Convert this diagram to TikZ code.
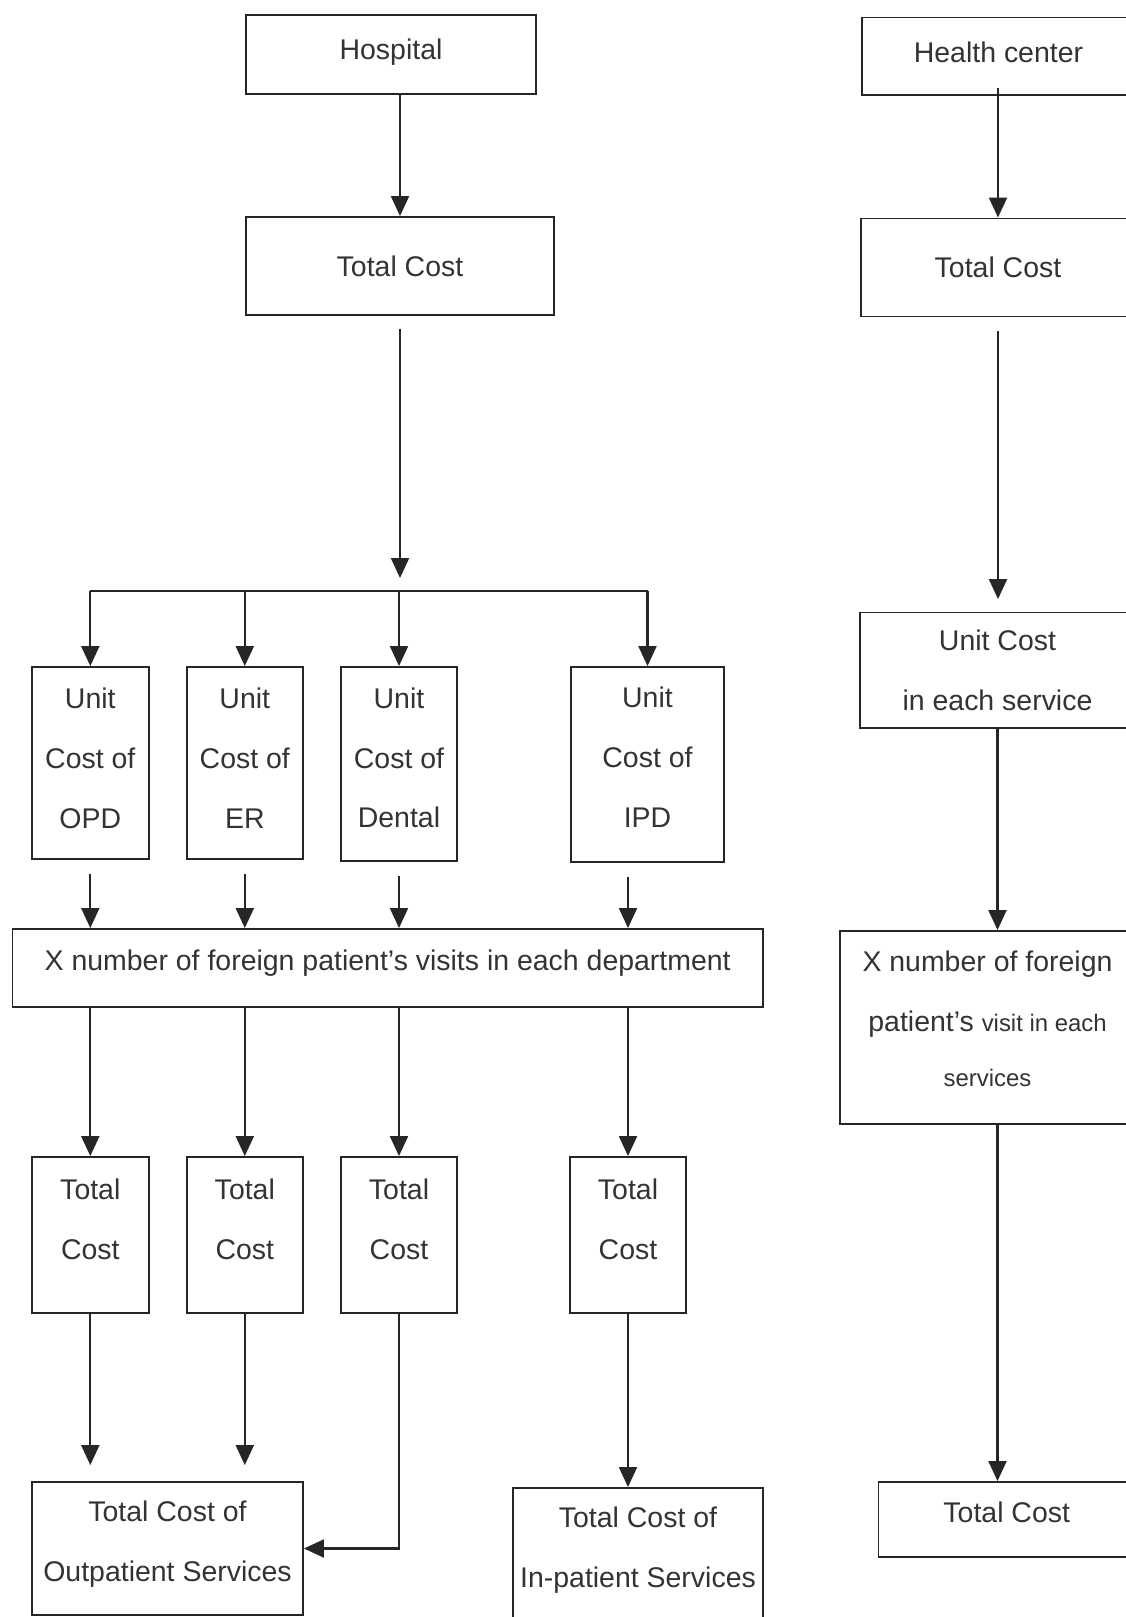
\documentclass[tikz,border=0pt]{standalone}
\usepackage{fontspec}
\setmainfont{Liberation Sans}
\usetikzlibrary{arrows.meta}
\tikzset{
	box/.style={draw=black!85, line width=1.1pt, inner sep=0pt, align=center, text=black!80, font=\fontsize{16.2}{34}\selectfont},
	arr/.style={draw=black!85, line width=1.2pt, -{Triangle[length=0.4cm,width=0.36cm]}},
	link/.style={draw=black!85, line width=1.2pt}
}
\newcommand{\smalltxt}{\fontsize{13.6}{34}\selectfont}

\begin{document}
\begin{tikzpicture}[x=0.02cm, y=-0.02cm]
			%%%%% START %%%%%
			\useasboundingbox (0, 0) rectangle (1126, 1617);
			\clip (0, 0) rectangle (1126, 1617);
			
			% hospital side
			\node[box, minimum width=5.8cm, minimum height=1.58cm, text depth=0.2cm] (hosp) at (391, 54.5) {Hospital};
			\node[box, minimum width=6.16cm, minimum height=1.96cm] (tc) at (400, 266) {Total Cost};
			\coordinate (split) at (400, 591);
			
			\node[box, minimum width=2.33cm, minimum height=3.84cm, text depth=0.2cm] (uopd) at (90.3, 763) {Unit\\Cost of\\OPD};
			\node[box, minimum width=2.33cm, minimum height=3.84cm, text depth=0.2cm] (uer) at (244.8, 763) {Unit\\Cost of\\ER};
			\node[box, minimum width=2.32cm, minimum height=3.88cm, text depth=0.25cm] (udent) at (399, 764) {Unit\\Cost of\\Dental};
			\node[box, minimum width=3.06cm, minimum height=3.9cm, text depth=0.29cm] (uipd) at (647.5, 764.5) {Unit\\Cost of\\IPD};
			
			\node[box, minimum width=15.01cm, minimum height=1.56cm, text depth=0.32cm] (xnum) at (387.7, 968) {X number of foreign patient's visits in each department};
			
			\node[box, minimum width=2.33cm, minimum height=3.12cm, text depth=0.64cm] (topd) at (90.3, 1235) {Total\\Cost};
			\node[box, minimum width=2.33cm, minimum height=3.12cm, text depth=0.64cm] (ter) at (244.8, 1235) {Total\\Cost};
			\node[box, minimum width=2.32cm, minimum height=3.12cm, text depth=0.64cm] (tdent) at (399, 1235) {Total\\Cost};
			\node[box, minimum width=2.32cm, minimum height=3.12cm, text depth=0.64cm] (tipd) at (628, 1235) {Total\\Cost};
			
			\node[box, minimum width=5.42cm, minimum height=2.66cm, text depth=0.29cm] (outp) at (167.5, 1548.5) {Total Cost of\\Outpatient Services};
			\node[box, minimum width=4.99cm, minimum height=3.56cm] (inp) at (638, 1577) {Total Cost of\\In-patient Services\\\mbox{}};
			
			\draw[arr] (tc.north |- hosp.south) -- (tc.north);
			\draw[arr] ([yshift=-0.26cm]tc.south) -- ([yshift=0.26cm]split);
			\draw[link] (uopd.north |- split) -- (uipd.north |- split);
			\foreach \u in {uopd, uer, udent, uipd}
				\draw[arr] (\u.north |- split) -- (\u.north);
			
			\foreach \u/\t in {uopd/topd, uer/ter, udent/tdent, uipd/tipd} {
				\draw[arr] ([yshift=-0.28cm]\t.north |- \u.south) -- (\t.north |- xnum.north);
				\draw[arr] (\t.north |- xnum.south) -- (\t.north);
			}
			
			\draw[arr] (topd.south) -- ([yshift=0.32cm]topd.south |- outp.north);
			\draw[arr] (ter.south) -- ([yshift=0.32cm]ter.south |- outp.north);
			\draw[arr] (tdent.south) |- (outp.east);
			\draw[arr] (tipd.south) -- (tipd.south |- inp.north);
			
			% health center side
			\node[box, minimum width=5.46cm, minimum height=1.55cm, text depth=0.17cm] (hc) at (998.5, 56.25) {Health center};
			\node[box, minimum width=5.48cm, minimum height=1.96cm] (rtc) at (998, 267.5) {Total Cost};
			\node[box, minimum width=5.5cm, minimum height=2.31cm] (runit) at (997.5, 670.25) {Unit Cost\\in each service};
			\node[box, minimum width=5.9cm, minimum height=3.86cm, text depth=0.35cm] (rxnum) at (987.5, 1027.5) {X number of foreign\\patient's {\smalltxt visit in each}\\[-0.1cm]{\smalltxt services}};
			\node[box, minimum width=5.13cm, minimum height=1.5cm, text depth=0.29cm] (rtot) at (1006.75, 1519.5) {Total Cost};
			
			\draw[arr] ([yshift=0.15cm]rtc.north |- hc.south) -- (rtc.north);
			\draw[arr] ([yshift=-0.27cm]rtc.south) -- ([yshift=0.25cm]rtc.south |- runit.north);
			\draw[arr] (runit.south) -- (runit.south |- rxnum.north);
			\draw[arr] (runit.south |- rxnum.south) -- (runit.south |- rtot.north);
			
			%%%%% END %%%%%
\end{tikzpicture}
\end{document}
